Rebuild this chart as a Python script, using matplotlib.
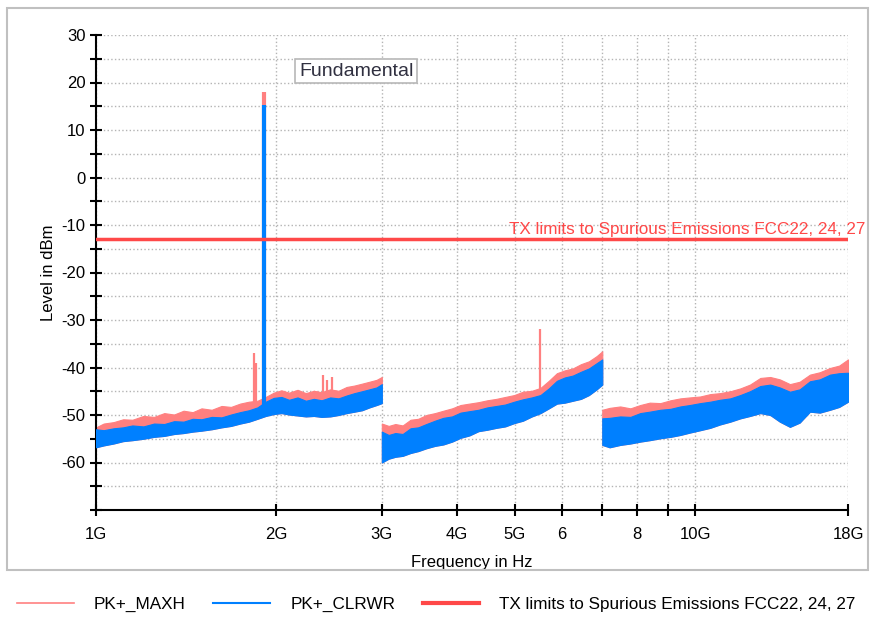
import matplotlib
matplotlib.use("Agg")
import matplotlib.pyplot as plt
from matplotlib.lines import Line2D
from matplotlib.patches import Rectangle

plt.rcParams['font.family'] = ['Liberation Sans', 'DejaVu Sans']

# frequencies in GHz, levels in dBm
freq1 = [1.00, 1.03, 1.07, 1.11, 1.15, 1.20, 1.25, 1.30, 1.35, 1.40, 1.45, 1.50,
         1.56, 1.62, 1.68, 1.74, 1.80, 1.86, 1.92, 1.98, 2.04, 2.10, 2.17, 2.24,
         2.31, 2.38, 2.46, 2.54, 2.62, 2.70, 2.78, 2.86, 2.94, 3.00]
maxh_top1 = [-52.6, -51.8, -51.5, -50.9, -51.0, -50.2, -50.4, -49.6, -49.9, -49.1, -49.4, -48.6,
             -48.9, -48.1, -48.3, -47.6, -47.2, -47.0, -46.2, -45.3, -44.8, -45.3, -44.7, -45.4,
             -44.9, -45.2, -44.6, -44.9, -44.1, -43.8, -43.4, -43.0, -42.6, -42.0]
clrwr_top1 = [-53.0, -53.2, -52.8, -52.6, -52.2, -52.4, -51.8, -51.9, -51.3, -51.4, -50.8, -50.9,
              -50.4, -50.5, -49.9, -49.4, -49.0, -48.4, -47.2, -46.4, -46.2, -46.8, -46.3, -47.0,
              -46.6, -46.9, -46.3, -46.5, -45.9, -45.4, -45.0, -44.6, -44.2, -43.5]
clrwr_bot1 = [-56.8, -56.4, -56.0, -55.5, -55.3, -55.0, -54.6, -54.4, -54.0, -53.8, -53.5, -53.3,
              -53.0, -52.6, -52.3, -51.8, -51.4, -50.8, -50.2, -49.8, -49.6, -49.9, -50.1, -50.3,
              -50.2, -50.4, -50.3, -50.0, -49.6, -49.3, -49.0, -48.4, -47.9, -47.5]

freq2 = [3.00, 3.08, 3.16, 3.25, 3.35, 3.45, 3.56, 3.68, 3.80, 3.93, 4.06, 4.20, 4.35, 4.50,
         4.66, 4.82, 4.99, 5.16, 5.34, 5.52, 5.70, 5.88, 6.06, 6.25, 6.45, 6.65, 6.85, 7.00]
maxh_top2 = [-51.8, -52.3, -51.9, -52.2, -51.0, -50.8, -50.0, -49.6, -49.1, -48.6, -47.9, -47.6,
             -47.3, -46.9, -46.6, -46.2, -45.8, -45.1, -44.9, -44.3, -42.8, -41.2, -40.6, -40.2,
             -39.3, -38.7, -37.6, -36.6]
clrwr_top2 = [-53.5, -54.2, -53.8, -54.0, -52.8, -52.6, -51.9, -51.2, -50.6, -50.3, -49.5, -49.2,
              -48.9, -48.4, -48.1, -47.8, -47.2, -46.7, -46.3, -45.8, -44.4, -42.8, -42.1, -41.7,
              -40.9, -40.2, -39.1, -38.3]
clrwr_bot2 = [-60.0, -59.2, -58.8, -58.6, -58.0, -57.6, -57.0, -56.5, -56.2, -55.6, -54.8, -54.3,
              -53.4, -53.1, -52.7, -52.4, -51.7, -51.2, -50.3, -49.6, -48.6, -47.6, -47.4, -47.0,
              -46.6, -45.8, -44.6, -43.6]

freq3 = [7.00, 7.2, 7.5, 7.8, 8.1, 8.4, 8.75, 9.1, 9.45, 9.8, 10.2, 10.6, 11.0, 11.45, 11.9,
         12.35, 12.85, 13.35, 13.85, 14.4, 14.95, 15.55, 16.15, 16.8, 17.4, 18.0]
maxh_top3 = [-48.9, -48.5, -48.2, -48.6, -47.9, -47.4, -47.5, -46.9, -46.5, -46.3, -46.1, -45.6,
             -45.4, -45.0, -44.4, -43.6, -42.2, -42.0, -42.5, -43.5, -43.0, -41.5, -41.0, -40.1,
             -39.6, -38.3]
clrwr_top3 = [-50.7, -50.6, -50.3, -50.4, -49.6, -49.3, -48.9, -48.7, -48.2, -47.9, -47.5, -47.2,
              -46.8, -46.5, -45.8, -45.0, -43.9, -43.6, -44.2, -45.1, -44.6, -42.9, -42.5, -41.5,
              -41.2, -41.1]
clrwr_bot3 = [-56.3, -56.8, -56.3, -56.0, -55.6, -55.3, -54.9, -54.6, -54.2, -53.7, -53.2, -52.7,
              -52.0, -51.4, -50.7, -50.2, -49.6, -50.0, -51.4, -52.5, -51.6, -49.3, -49.5, -48.9,
              -48.3, -47.2]

# narrow peaks
maxh_spike_f = [1.836, 1.850, 2.393, 2.430, 2.480, 5.510]
maxh_spike_lvl = [-37.0, -39.0, -41.5, -42.7, -42.0, -31.8]
fund_f = 1.907
fund_maxh = 18.0
fund_clrwr = 15.2

limit_lvl = -13.0
limit_label = "TX limits to Spurious Emissions FCC22, 24, 27"

xtick_pos = [1, 2, 3, 4, 5, 6, 7, 8, 9, 10, 18]
xtick_lab = ['1G', '2G', '3G', '4G', '5G', '6', '', '8', '', '10G', '18G']

RED = '#ff8080'
BLUE = '#0080ff'
LIM = '#ff4848'

fig = plt.figure(figsize=(8.73, 6.19), dpi=100)
ax = fig.add_axes([96 / 873, 1 - 510 / 619, 752 / 873, 475 / 619])

segs = [(freq1, maxh_top1, clrwr_top1, clrwr_bot1),
        (freq2, maxh_top2, clrwr_top2, clrwr_bot2),
        (freq3, maxh_top3, clrwr_top3, clrwr_bot3)]
for f, mt, ct, cb in segs:
    ax.fill_between(f, cb, mt, color=RED, lw=0.8, ec=RED, zorder=2)

for f, lv in zip(maxh_spike_f, maxh_spike_lvl):
    ax.vlines(f, -48, lv, color=RED, lw=1.6, zorder=2)
ax.vlines(fund_f, -48, fund_maxh, color=RED, lw=3, zorder=2)

for f, mt, ct, cb in segs:
    ax.fill_between(f, cb, ct, color=BLUE, lw=0.8, ec=BLUE, zorder=3)
ax.vlines(fund_f, -48, fund_clrwr, color=BLUE, lw=3, zorder=3)

ax.axhline(limit_lvl, color=LIM, lw=2.5, zorder=4)
ax.text(1.0226, limit_lvl + 0.5, limit_label, transform=ax.get_yaxis_transform(),
        ha='right', va='bottom', color=LIM, fontsize=12.3, zorder=5)

ax.text(0.270, 0.924, "Fundamental", transform=ax.transAxes, ha='left', va='center',
        fontsize=14, color='#303040', zorder=6,
        bbox=dict(boxstyle='square,pad=0.2', fc='white', ec='#b8b8b8', lw=1.2))

ax.set_xscale('log')
ax.set_xlim(1, 18)
ax.set_ylim(-70, 30)
ax.set_xticks(xtick_pos)
ax.set_xticklabels(xtick_lab)
ax.xaxis.set_minor_locator(matplotlib.ticker.NullLocator())
ax.set_yticks(range(-70, 31, 5))
ax.set_yticklabels([str(v) if v % 10 == 0 and v > -70 else '' for v in range(-70, 31, 5)])

ax.tick_params(axis='both', direction='inout', length=9, width=1.5, labelsize=12,
               colors='black')
ax.tick_params(axis='x', pad=8)
ax.tick_params(axis='y', pad=3)

for s in ['top', 'right']:
    ax.spines[s].set_visible(False)
for s in ['left', 'bottom']:
    ax.spines[s].set_linewidth(1.5)

ax.grid(True, color='#b4b4b4', linestyle=':', lw=1.0)
ax.set_axisbelow(True)

ax.set_xlabel("Frequency in Hz", fontsize=12, labelpad=9)
ax.set_ylabel("Level in dBm", fontsize=12, labelpad=4)

fig.patches.append(Rectangle((7 / 873, 1 - 570 / 619), 861 / 873, 562 / 619,
                             transform=fig.transFigure, fill=False, ec='#c0c0c0', lw=1.5))

handles = [Line2D([], [], color=RED, lw=1.2),
           Line2D([], [], color=BLUE, lw=1.5),
           Line2D([], [], color=LIM, lw=3)]
fig.legend(handles, ['PK+_MAXH', 'PK+_CLRWR', limit_label], loc='center',
           bbox_to_anchor=(0.5, 0.023), ncol=3, frameon=False, fontsize=12.3,
           handlelength=3.3, handletextpad=1.2, columnspacing=1.6)

fig.savefig('out.png', dpi=100)
